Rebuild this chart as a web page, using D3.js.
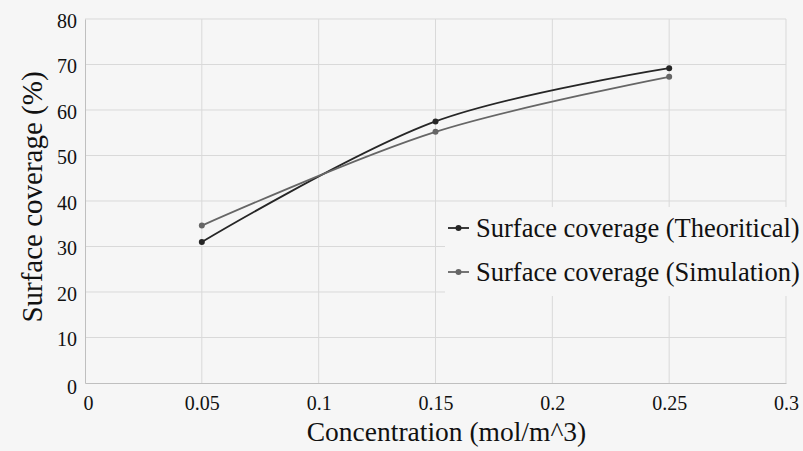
<!DOCTYPE html>
<html>
<head>
<meta charset="utf-8">
<script src="https://cdn.jsdelivr.net/npm/d3@7"></script>
</head>
<body style="margin:0">
<svg width="803" height="451"></svg>
<script>
// chart values
var concentration = [0.05, 0.15, 0.25]
var theoretical = [31.0, 57.5, 69.2]
var simulation = [34.6, 55.2, 67.3]
var xTicks = [0, 0.05, 0.1, 0.15, 0.2, 0.25, 0.3]
var yTicks = [0, 10, 20, 30, 40, 50, 60, 70, 80]
var seriesNames = ['Surface coverage (Theoritical)', 'Surface coverage (Simulation)']
var seriesColors = ['#262626', '#666666']

var serif = 'Liberation Serif'

var svg = d3.select('svg')
svg.append('rect').attr('width', 803).attr('height', 451).attr('fill', '#f6f6f6')

var x = d3.scaleLinear().domain([0, 0.3]).range([85, 786])
var y = d3.scaleLinear().domain([0, 80]).range([383, 19])

// gridlines
svg.append('g').selectAll('line').data(yTicks.slice(1)).enter().append('line')
  .attr('x1', x(0)).attr('x2', x(0.3))
  .attr('y1', function (d) { return y(d) }).attr('y2', function (d) { return y(d) })
  .attr('stroke', '#d9d9d9').attr('stroke-width', 1)
svg.append('g').selectAll('line').data(xTicks.slice(1)).enter().append('line')
  .attr('x1', function (d) { return x(d) }).attr('x2', function (d) { return x(d) })
  .attr('y1', y(0)).attr('y2', y(80))
  .attr('stroke', '#d9d9d9').attr('stroke-width', 1)

// axes
var xAxis = svg.append('g').attr('transform', 'translate(0,' + y(0) + ')')
  .call(d3.axisBottom(x).tickValues(xTicks).tickSize(0).tickPadding(8).tickFormat(function (d) { return String(d) }))
var yAxis = svg.append('g').attr('transform', 'translate(' + x(0) + ',0)')
  .call(d3.axisLeft(y).tickValues(yTicks).tickSize(0).tickPadding(8))
;[xAxis, yAxis].forEach(function (a) {
  a.attr('font-family', null).attr('font-size', null)
  a.select('.domain').attr('stroke', '#bfbfbf')
  a.selectAll('text').attr('fill', '#111')
    .style('font-family', serif, 'important').style('font-size', '20px')
})
xAxis.selectAll('text').attr('dy', '0.95em')
xAxis.selectAll('.tick').filter(function (d) { return d === 0 }).select('text').attr('dx', 3)
yAxis.selectAll('text').attr('dy', '0.4em')
yAxis.selectAll('.tick').filter(function (d) { return d === 0 }).select('text').attr('dy', '0.5em')

// lines
var series = [theoretical, simulation]
var line = d3.line()
  .x(function (d, i) { return x(concentration[i]) })
  .y(function (d) { return y(d) })
  .curve(d3.curveCatmullRom.alpha(0.5))

series.forEach(function (s, k) {
  svg.append('path').datum(s).attr('d', line)
    .attr('fill', 'none').attr('stroke', seriesColors[k]).attr('stroke-width', 1.8)
  svg.append('g').selectAll('circle').data(s).enter().append('circle')
    .attr('cx', function (d, i) { return x(concentration[i]) })
    .attr('cy', function (d) { return y(d) })
    .attr('r', 3).attr('fill', seriesColors[k])
})

// legend
var lg = svg.append('g')
lg.append('rect').attr('x', 445).attr('y', 207).attr('width', 358).attr('height', 89).attr('fill', '#f6f6f6')
seriesNames.forEach(function (n, k) {
  var cy = 228 + k * 44
  lg.append('line').attr('x1', 448).attr('x2', 469).attr('y1', cy).attr('y2', cy)
    .attr('stroke', seriesColors[k]).attr('stroke-width', 1.8)
  lg.append('circle').attr('cx', 458.5).attr('cy', cy).attr('r', 3).attr('fill', seriesColors[k])
  lg.append('text').attr('x', 476).attr('y', cy + 9).attr('fill', '#111')
    .style('font-family', serif, 'important').style('font-size', '26.5px').text(n)
})

// axis titles
svg.append('text').attr('x', 446.5).attr('y', 441).attr('text-anchor', 'middle').attr('fill', '#111')
  .style('font-family', serif, 'important').style('font-size', '27.5px').text('Concentration (mol/m^3)')
svg.append('text').attr('transform', 'translate(42,197) rotate(-90)').attr('text-anchor', 'middle').attr('fill', '#111')
  .style('font-family', serif, 'important').style('font-size', '29px').text('Surface coverage (%)')
</script>
</body>
</html>
